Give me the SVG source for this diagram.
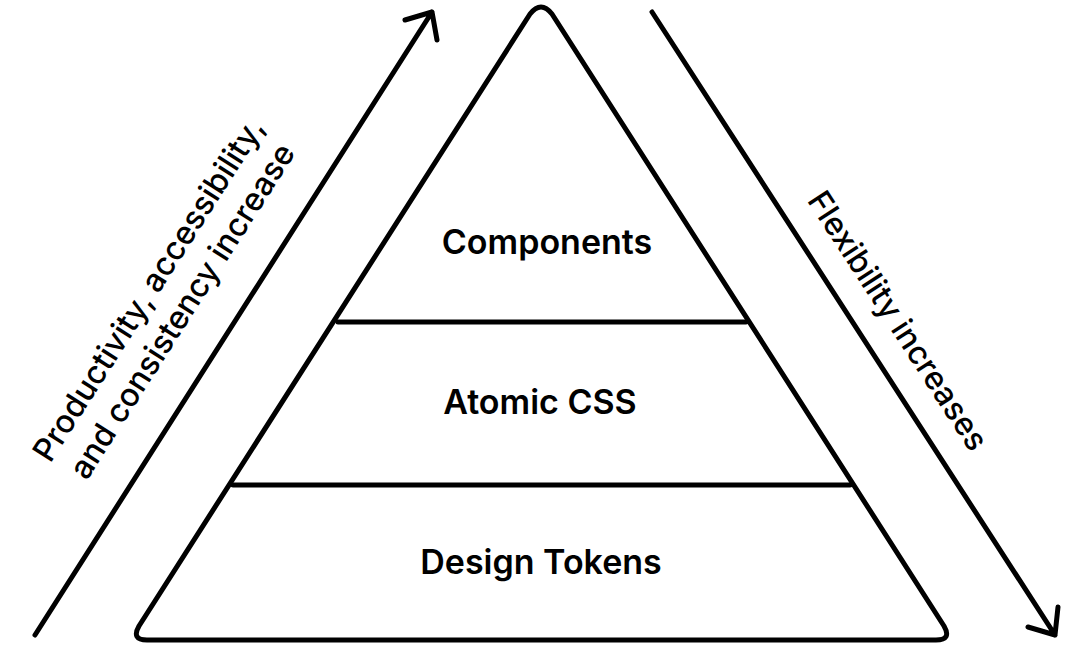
<svg xmlns="http://www.w3.org/2000/svg" width="1072" height="660" viewBox="0 0 1072 660">
<style>
.s{fill:none;stroke:#000;stroke-width:5;stroke-linecap:round;stroke-linejoin:round}
.t{font-family:Inter,"Liberation Sans",sans-serif;font-size:32px;fill:#000;text-anchor:middle;dominant-baseline:middle}
.b{font-weight:600;font-size:34px}
.r{font-weight:500}
</style>
<rect width="1072" height="660" fill="#fff"/>
<g id="pyramid">
<path class="s" d="M530 14 Q541 0 552 14 L944 626 Q952 640 936 640 L147 640 Q131 640 139 626 Z"/>
</g>
<g id="connectors">
<line class="s" x1="338" y1="322" x2="746" y2="322"/>
<line class="s" x1="233" y1="485" x2="850" y2="485"/>
<path class="s" d="M35 635 L432 12 M405 20 L432 12 L437 40"/>
<path class="s" d="M652 12 L1055 635 M1028 627 L1055 635 L1058 607"/>
</g>
<g id="components"><text class="t b" x="547" y="245">Components</text></g>
<g id="atomic"><text class="t b" x="540" y="405">Atomic CSS</text></g>
<g id="tokens"><text class="t b" x="541" y="565">Design Tokens</text></g>
<g id="left-label" transform="translate(168,302) rotate(-57.5)">
<text class="t r" x="0" y="-21">Productivity, accessibility,</text>
<text class="t r" x="0" y="19">and consistency increase</text>
</g>
<g id="right-label" transform="translate(896,322) rotate(57)">
<text class="t r" x="0" y="0">Flexibility increases</text>
</g>
</svg>
